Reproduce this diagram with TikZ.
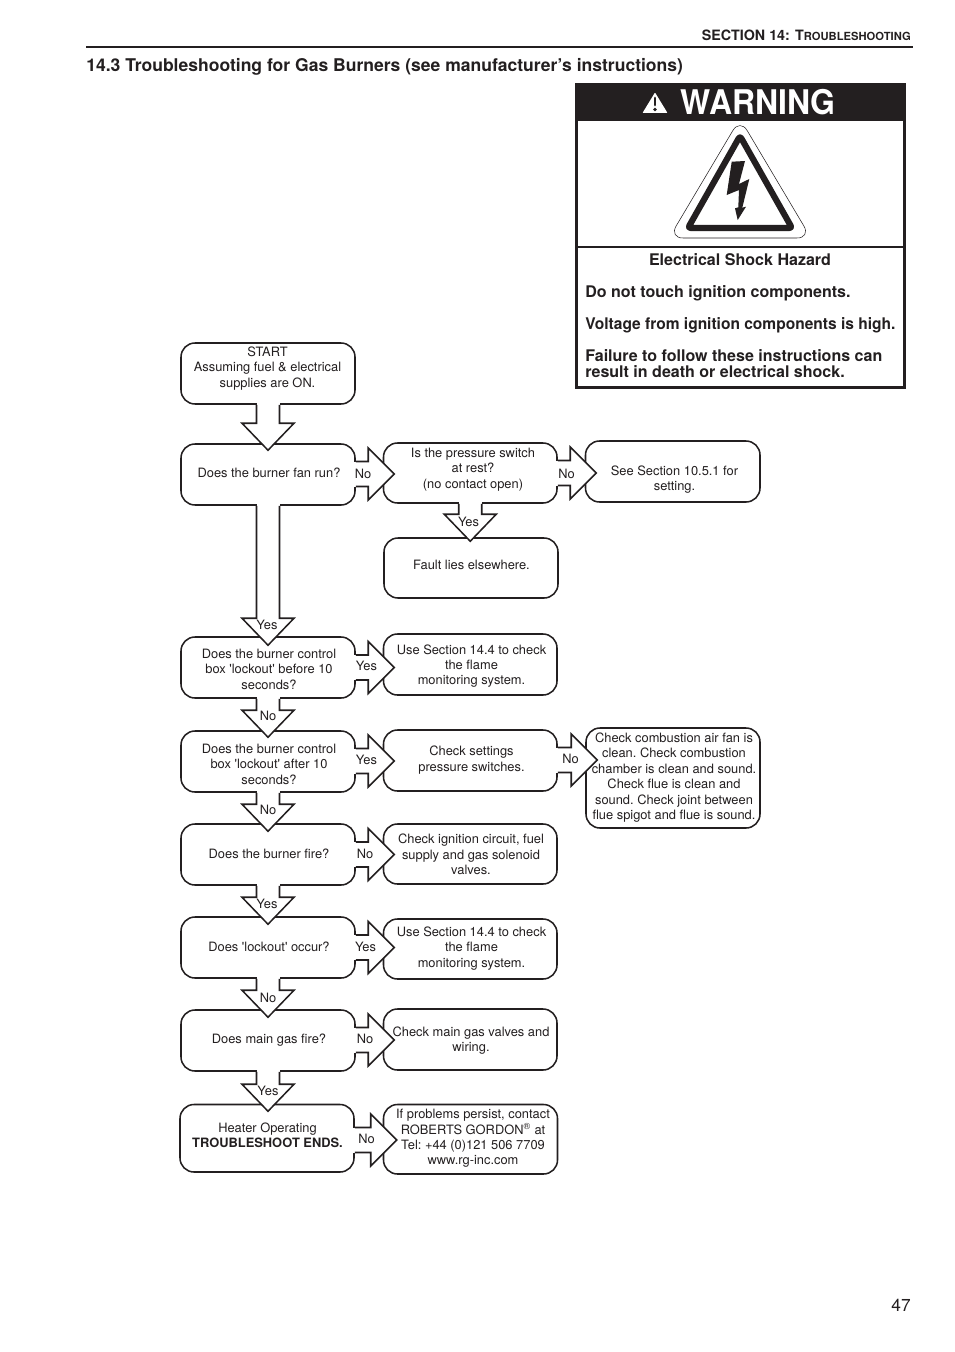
\documentclass[tikz,border=0pt]{standalone}
\usepackage{fontspec}
\setmainfont[Ligatures=TeXOff]{TeX Gyre Heros}
\usetikzlibrary{calc}
\definecolor{ink}{HTML}{231F20}
\tikzset{
  flowbox/.style={draw=ink,line width=1.15pt,rounded corners=10.5pt,fill=white,inner sep=0pt},
  blockarrow/.style={draw=ink,fill=white,line width=1.15pt,line join=miter,miter limit=10},
  txt/.style={text=ink,align=center,inner sep=0pt,font=\fontsize{9.65}{11.55}\selectfont\frenchspacing},
  lab/.style={txt},
  warn/.style={text=ink,inner sep=0pt,font=\fontsize{12.03}{12}\selectfont\bfseries\frenchspacing,align=left}
}
\newcommand\fbx[5]{%
  \pgfmathsetmacro\bxw{(#4-#2)*0.75}\pgfmathsetmacro\bxh{(#5-#3)*0.75}%
  \pgfmathsetmacro\bxx{(#2+#4)/2}\pgfmathsetmacro\bxy{(#3+#5)/2}%
  \node[flowbox,minimum width=\bxw pt,minimum height=\bxh pt] (#1) at (\bxx,\bxy) {};}
% down block arrow: from, to, tip overlap
\newcommand\arrD[3]{%
  \coordinate (T) at ($(#1.south |- #2.north)+(0,#3)$);
  \coordinate (B) at (#1.south);
  \fill[white] ($(B)+(-11.5,-2.5)$) rectangle ($(B)+(11.5,2)$);
  \filldraw[blockarrow] ($(B)+(-11.5,0)$) -- ($(T)+(-11.5,-27)$) -- ($(T)+(-26,-27)$) -- (T)
    -- ($(T)+(26,-27)$) -- ($(T)+(11.5,-27)$) -- ($(B)+(11.5,0)$);}
% right block arrow: from, to, y, tip overlap
\newcommand\arrR[4]{%
  \coordinate (yy) at (0,#3);
  \coordinate (T) at ($(#2.west |- yy)+(#4,0)$);
  \coordinate (B) at (#1.east |- yy);
  \fill[white] ($(B)+(-2.5,-12.5)$) rectangle ($(B)+(2,12.5)$);
  \filldraw[blockarrow] ($(B)+(0,-12.5)$) -- ($(T)+(-26,-12.5)$) -- ($(T)+(-26,-26)$) -- (T)
    -- ($(T)+(-26,26)$) -- ($(T)+(-26,12.5)$) -- ($(B)+(0,12.5)$);}
\begin{document}
\begin{tikzpicture}[x=0.75pt,y=-0.75pt]
\useasboundingbox (0,0) rectangle (954,1352);
\fill[white] (0,0) rectangle (954,1352);
% page head
\node[anchor=east,text=ink,inner sep=0pt,font=\fontsize{10.7}{12}\selectfont\bfseries] (head) at (911,35.5) {SECTION 14: T{\fontsize{8.4}{12}\selectfont ROUBLESHOOTING}};
\draw[ink,line width=1.6pt] (86,47) -- (913,47);
\node[anchor=west,text=ink,inner sep=0pt,font=\fontsize{13.15}{16}\selectfont\bfseries] (title) at (86,67) {14.3 Troubleshooting for Gas Burners (see manufacturer’s instructions)};
\node[text=ink,inner sep=0pt,font=\fontsize{13}{16}\selectfont] (pageno) at (901,1305.5) {47};
% warning panel
\fill[ink] (576,84) rectangle (905,121);
\draw[ink,line width=1.7pt] (576.5,84.5) rectangle (904.5,387.5);
\draw[ink,line width=1.7pt] (576,247) -- (905,247);
\fill[white,rounded corners=0.5pt] (655,92.5) -- (667.5,113) -- (642.5,113) -- cycle;
\draw[ink,line width=2.2pt,line cap=round] (655,98) -- (655,105);
\fill[ink] (655,109.5) circle (1.8);
\node[anchor=west,text=white,inner sep=0pt,font=\fontsize{25.5}{30}\selectfont\bfseries] (warning) at (680.5,102) {\scalebox{0.94}[1]{WARNING}};
\draw[ink,line width=0.4pt,rounded corners=10.5pt] (740,118.5) -- (811,238) -- (669,238) -- cycle;
\draw[ink,line width=4.6pt,line join=round,rounded corners=2pt] (740,136) -- (792,228) -- (688,228) -- cycle;
\fill[ink] (731.7,161.7) -- (745,161) -- (739,184) -- (749.3,179) -- (742.3,207.7) -- (746,206.7) -- (737.7,220) -- (735,208.3) -- (738.3,207.3) -- (739,190) -- (726.7,195) -- cycle;
\node[warn,align=center] (w1) at (740,259.5) {Electrical Shock Hazard};
\node[warn,anchor=west] (w2) at (585,293) {Do not touch ignition components.};
\node[warn,anchor=west] (w3) at (585,325) {\scalebox{0.968}[1]{Voltage from ignition components is high.}};
\node[warn,anchor=west] (w4) at (585,363.5) {Failure to follow these instructions can\\result in death or electrical shock.};
% boxes
\fbx{start}{181}{343}{355}{404}
\fbx{fan}{181}{444}{355}{505}
\fbx{press}{383.5}{443}{557}{503}
\fbx{see}{585.5}{441}{760}{502}
\fbx{faultb}{384}{538}{558}{598}
\fbx{lockA}{181}{637}{355}{698}
\fbx{useA}{383.5}{634}{557}{695}
\fbx{lockB}{181}{731}{355}{792}
\fbx{settings}{383.5}{730}{557}{791}
\fbx{comb}{586}{728}{760}{828}
\fbx{fire}{181}{824}{355}{885}
\fbx{ignition}{383.5}{824}{557}{884}
\fbx{occur}{181}{917}{355}{978}
\fbx{useB}{383.5}{919}{557}{979}
\fbx{maing}{181}{1010}{355}{1071}
\fbx{checkm}{383.5}{1009}{557}{1070}
\fbx{heater}{180}{1104.5}{354}{1172}
\fbx{problems}{383.5}{1104.5}{557.5}{1174}
% block arrows
\arrD{start}{fan}{7}
\arrD{fan}{lockA}{9}
\arrD{lockA}{lockB}{7}
\arrD{lockB}{fire}{8}
\arrD{fire}{occur}{8}
\arrD{occur}{maing}{8}
\arrD{maing}{heater}{7.5}
\arrD{press}{faultb}{4}
\arrR{fan}{press}{474}{11.5}
\arrR{press}{see}{473}{11.5}
\arrR{lockA}{useA}{667.5}{11.5}
\arrR{lockB}{settings}{761}{11.5}
\arrR{settings}{comb}{760}{12}
\arrR{fire}{ignition}{854.5}{11.5}
\arrR{occur}{useB}{947.5}{11.5}
\arrR{maing}{checkm}{1040}{11.5}
\arrR{heater}{problems}{1140}{14}
% box texts
\node[txt] (tstart) at (267.5,368.5) {START\\Assuming fuel \& electrical\\supplies are ON.};
\node[txt] (tfan) at (269,473) {Does the burner fan run?};
\node[txt] (tpress) at (473,469.5) {Is the pressure switch\\at rest?\\(no contact open)};
\node[txt] (tsee) at (674.5,479.5) {See Section 10.5.1 for\\setting.};
\node[txt] (tfault) at (471.5,565) {Fault lies elsewhere.};
\node[txt] (tlockA) at (269,669) {Does the burner control\\box 'lockout' before 10\\seconds?};
\node[txt] (tuseA) at (471.5,666) {Use Section 14.4 to check\\the flame\\monitoring system.};
\node[txt] (tlockB) at (269,764) {Does the burner control\\box 'lockout' after 10\\seconds?};
\node[txt] (tsettings) at (471.5,760) {Check settings\\pressure switches.};
\node[txt] (tcomb) at (674,777.5) {Check combustion air fan is\\clean. Check combustion\\chamber is clean and sound.\\Check flue is clean and\\sound. Check joint between\\flue spigot and flue is sound.};
\node[txt] (tfire) at (269,854) {Does the burner fire?};
\node[txt] (tignition) at (471,854.5) {Check ignition circuit, fuel\\supply and gas solenoid\\valves.};
\node[txt] (toccur) at (269,947) {Does 'lockout' occur?};
\node[txt] (tuseB) at (471.5,948.5) {Use Section 14.4 to check\\the flame\\monitoring system.};
\node[txt] (tmain) at (269,1040.5) {Does main gas fire?};
\node[txt] (tcheckm) at (471,1040.5) {Check main gas valves and\\wiring.};
\node[txt] (theater) at (267.5,1135.5) {Heater Operating\\\textbf{TROUBLESHOOT ENDS.}};
\node[txt] (tproblems) at (473,1138.5) {If problems persist, contact\\ROBERTS GORDON\textsuperscript{®} at\\Tel: +44 (0)121 506 7709\\www.rg-inc.com};
% arrow labels
\node[lab] (l1) at (363,474) {No};
\node[lab] (l2) at (566.5,474) {No};
\node[lab] (l3) at (468.5,521.5) {Yes};
\node[lab] (l4) at (267,625) {Yes};
\node[lab] (l5) at (366.5,666) {Yes};
\node[lab] (l6) at (268,716) {No};
\node[lab] (l7) at (366.5,760) {Yes};
\node[lab] (l8) at (570.5,759) {No};
\node[lab] (l9) at (268,810) {No};
\node[lab] (l10) at (365,854) {No};
\node[lab] (l11) at (267,904) {Yes};
\node[lab] (l12) at (365.5,947) {Yes};
\node[lab] (l13) at (268,998) {No};
\node[lab] (l14) at (365,1039) {No};
\node[lab] (l15) at (268,1091) {Yes};
\node[lab] (l16) at (366.5,1139) {No};
\end{tikzpicture}
\end{document}
